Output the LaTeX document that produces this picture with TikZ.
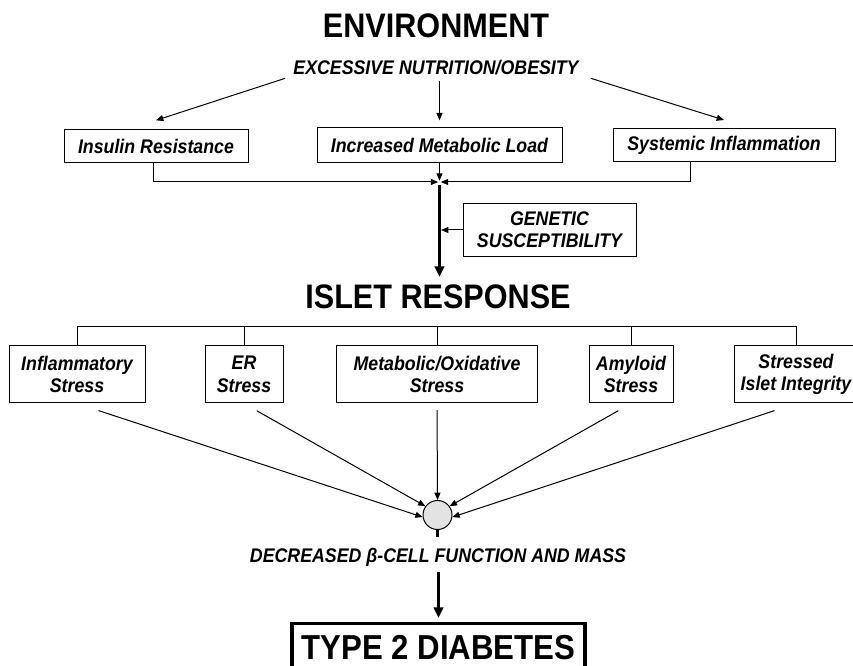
\documentclass[tikz,border=0pt]{standalone}
\usepackage{fontspec}
\setmainfont{Liberation Sans}[FakeStretch=0.9]
\usetikzlibrary{arrows.meta}
\begin{document}
\begin{tikzpicture}[x=0.75pt,y=-0.75pt,
  thinline/.style={line width=0.75pt},
  arr/.style={line width=0.75pt,-{Triangle[length=5.5pt,width=4.5pt]}},
  bigarr/.style={line width=2.6pt,-{Triangle[length=8pt,width=7pt]}},
  box/.style={draw,line width=0.75pt,inner sep=0pt,align=center,
    font=\fontsize{14.8}{16.8}\selectfont\bfseries\itshape},
  titletext/.style={font=\fontsize{25.5}{29}\selectfont\bfseries,inner sep=0pt},
  labeltext/.style={font=\fontsize{14.8}{16}\selectfont\bfseries\itshape,inner sep=0pt},
  t2dbox/.style={draw,line width=2.3pt,inner sep=0pt,minimum width=219.75pt,minimum height=36.75pt,
    font=\fontsize{26}{29}\selectfont\bfseries},
  dot/.style={circle,draw,line width=0.75pt,fill=gray!22,minimum size=21.75pt,inner sep=0pt}]
\useasboundingbox (0,0) rectangle (853,666);

% titles
\node[titletext] (env) at (436,26) {ENVIRONMENT};
\node[labeltext,anchor=base] (exc) at (436,75) {EXCESSIVE NUTRITION/OBESITY};

% first row of boxes
\node[box,minimum width=138pt,minimum height=24.75pt] (ir) at (156,146) {Insulin Resistance};
\node[box,minimum width=183.75pt,minimum height=26.25pt] (iml) at (439.5,145) {Increased Metabolic Load};
\node[box,minimum width=166.5pt,minimum height=24.75pt] (si) at (724,145) {Systemic Inflammation};

\draw[arr] ([shift={(-6pt,-2pt)}]exc.south west) -- ([yshift=6.5pt]ir.north);
\draw[arr] ([yshift=-4pt]exc.south -| iml.north) -- ([yshift=5pt]iml.north);
\draw[arr] ([shift={(9pt,-2pt)}]exc.south east) -- ([yshift=6pt]si.north);

% junction
\coordinate (j) at (439.5,182);
\draw[arr,shorten >=1pt] ([xshift=-2pt]ir.south) |- (j);
\draw[arr,shorten >=1pt] ([xshift=-25pt]si.south) |- (j);
\draw[arr,shorten >=1pt] (iml.south) -- (j);

% genetic susceptibility
\node[box,minimum width=129.75pt,minimum height=39.75pt] (gen) at (549.5,230) {GENETIC\\SUSCEPTIBILITY};

\node[titletext,anchor=base] (islet) at (438,309) {ISLET RESPONSE};
\draw[bigarr] ([yshift=-2.5pt]j) -- ([yshift=6pt]islet.north -| j);
\draw[arr,shorten >=1.2pt] (gen.west) -- (gen.west -| j);

% second row
\node[box,minimum width=102pt,minimum height=42.75pt] (inf) at (77,374.5) {Inflammatory\\Stress};
\node[box,minimum width=58.5pt,minimum height=42.75pt] (er) at (244,374.5) {ER\\Stress};
\node[box,minimum width=150.75pt,minimum height=42.75pt] (met) at (437,374.5) {Metabolic/Oxidative\\Stress};
\node[box,minimum width=63pt,minimum height=42.75pt] (amy) at (631,374.5) {Amyloid\\Stress};
\node[box,minimum width=93pt,minimum height=42.75pt] (sii) at (796,374.5) {Stressed\\Islet Integrity};

\coordinate (brk) at (0,327);
\draw[thinline] (inf.north) |- (brk -| sii.north) -- (sii.north);
\draw[thinline] (er.north) -- (er.north |- brk);
\draw[thinline] (met.north) -- (met.north |- brk);
\draw[thinline] (amy.north) -- (amy.north |- brk);

% convergence dot
\node[dot] (c) at (437.5,515) {};
\draw[arr,shorten <=17pt] (inf.south) -- (c.188);
\draw[arr,shorten <=11pt] (er.south) -- (c.144);
\draw[arr,shorten <=5pt] (met.south) -- (c.90);
\draw[arr,shorten <=11pt] (amy.south) -- (c.36);
\draw[arr,shorten <=17pt] (sii.south) -- (c.352);

\node[labeltext,anchor=base] (dec) at (438,562) {DECREASED β-CELL FUNCTION AND MASS};
\draw[line width=2.6pt] (c.south) -- ([yshift=8pt]dec.north -| c.south);

\node[t2dbox,anchor=north] (t2d) at (438.5,622) {TYPE 2 DIABETES};
\draw[bigarr,shorten <=4.5pt,shorten >=3pt] (dec.south -| t2d.north) -- (t2d.north);
\end{tikzpicture}
\end{document}
